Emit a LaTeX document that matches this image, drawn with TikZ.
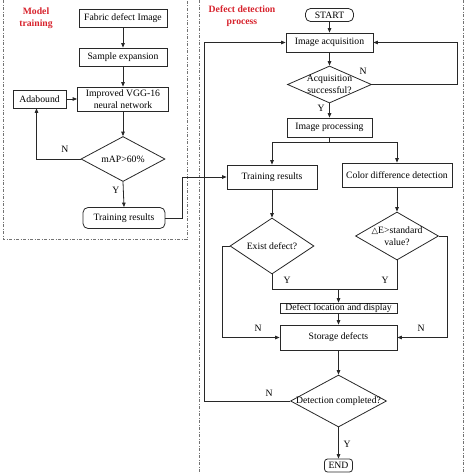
\documentclass[tikz,border=0pt]{standalone}
\usepackage{fontspec}
\setmainfont{Liberation Serif}
\newfontfamily\symf{DejaVu Sans}
\usetikzlibrary{shapes.geometric,arrows.meta}
\definecolor{lbl}{RGB}{215,35,45}
\definecolor{ln}{RGB}{40,40,40}
\begin{document}
\begin{tikzpicture}[x=1pt,y=-1pt,
  font=\fontsize{9.7}{12}\selectfont,
  box/.style={draw=ln,line width=0.8pt,inner sep=0pt,align=center},
  rbox/.style={box,rounded corners=5pt},
  dia/.style={draw=ln,line width=0.8pt,diamond,inner sep=0pt,align=center},
  con/.style={draw=ln,line width=0.8pt,-{Triangle[length=4.5pt,width=3.6pt]}},
  ln0/.style={draw=ln,line width=0.8pt},
  frame/.style={draw=black!55,line width=0.7pt,dash pattern=on 3pt off 1.5pt on 1pt off 1.5pt},
  yn/.style={inner sep=0pt},
  title/.style={text=lbl,font=\fontsize{9.7}{12}\selectfont\bfseries,align=center}]
\useasboundingbox (0,0) rectangle (474,474);
% frames
\draw[frame] (3,0) -- (3,239) -- (187,239) -- (187,0);
\draw[frame] (199,0) -- (199,474);
\draw[frame] (463,0) -- (463,474);
\node[title] (tl) at (36,18) {Model\\training};
\node[title] (tr) at (242,16) {Defect detection\\process};
% left panel
\node[box,minimum width=88pt,minimum height=18pt] (fab) at (123,18) {Fabric defect Image};
\node[box,minimum width=88pt,minimum height=18pt] (samp) at (123,57) {Sample expansion};
\node[box,minimum width=91pt,minimum height=24pt] (vgg) at (123,99) {Improved VGG-16\\neural network};
\node[box,minimum width=53pt,minimum height=18pt] (ada) at (39.5,99) {Adabound};
\node[dia,minimum width=84pt,minimum height=45pt] (map) at (123,159) {\makebox[0pt]{mAP>60\%}};
\node[rbox,minimum width=82pt,minimum height=21pt] (trl) at (124,218) {Training results};
\node[yn] (nl) at (65,149) {N};
\node[yn] (yl) at (116,190) {Y};
\draw[con] (fab) -- (samp);
\draw[con] (samp) -- (vgg);
\draw[con] (ada) -- (vgg);
\draw[con] (vgg) -- (map);
\draw[con] (map.west) -| ([xshift=-3pt]ada.south);
\draw[con] (map.south) -- (trl.north);
% right panel
\node[rbox,minimum width=48pt,minimum height=13pt] (start) at (329.5,15) {START};
\node[box,minimum width=87pt,minimum height=19pt] (acq) at (329.5,42.5) {Image acquisition};
\node[dia,minimum width=84pt,minimum height=37pt] (succ) at (329.5,84.5) {\makebox[0pt]{Acquisition}\\\makebox[0pt]{successful?}};
\node[box,minimum width=85pt,minimum height=19pt] (proc) at (329.5,127.5) {Image processing};
\node[box,minimum width=90pt,minimum height=24pt] (trr) at (272,177) {Training results};
\node[box,minimum width=110pt,minimum height=24pt] (cdd) at (397,175) {Color difference detection};
\node[dia,minimum width=84pt,minimum height=56pt] (exist) at (272,246) {\makebox[0pt]{Exist defect?}};
\node[dia,minimum width=83pt,minimum height=48pt] (de) at (397,236) {\makebox[0pt]{{\symf\fontsize{8.5}{10}\selectfont △}E>standard}\\\makebox[0pt]{value?}};
\node[box,minimum width=117pt,minimum height=10pt] (loc) at (338.5,308) {Defect location and display};
\node[box,minimum width=117pt,minimum height=25pt] (stor) at (338.5,337.5) {Storage defects};
\node[dia,minimum width=96pt,minimum height=52pt] (det) at (338.5,401) {\makebox[0pt]{Detection completed?}};
\node[rbox,minimum width=28pt,minimum height=13pt,rounded corners=3pt] (end) at (338.5,465.5) {END};
\node[yn] (n1) at (363,71) {N};
\node[yn] (y1) at (321,108) {Y};
\node[yn] (y2) at (287,280) {Y};
\node[yn] (y3) at (385,280) {Y};
\node[yn] (n2) at (258,328) {N};
\node[yn] (n3) at (421,328) {N};
\node[yn] (n4) at (269,393) {N};
\node[yn] (y4) at (347,444) {Y};
\coordinate (j1) at (182,177);
\draw[con] (trl.east) -| (j1) -- (trr.west);
\draw[con] (start) -- (acq);
\draw[con] (acq) -- (succ);
\coordinate (r1) at (457,84.5);
\draw[con] (succ.east) -- (r1) |- (acq.east);
\draw[con] (succ) -- (proc);
\coordinate (sp) at (329.5,142);
\draw[ln0] (proc) -- (sp);
\draw[con] (sp) -| (trr.north);
\draw[con] (sp) -| (cdd.north);
\draw[con] (trr) -- (exist);
\draw[con] (cdd) -- (de);
\coordinate (mg) at (338.5,289);
\draw[ln0] (exist.south) |- (mg);
\draw[ln0] (de.south) |- (mg);
\draw[con] (mg) -- (loc);
\draw[con] (loc) -- (stor);
\coordinate (l1) at (222,246);
\draw[con] (exist.west) -- (l1) |- (stor.west);
\coordinate (r2) at (447,236);
\draw[con] (de.east) -- (r2) |- (stor.east);
\draw[con] (stor) -- (det);
\coordinate (l2) at (204,401);
\draw[con] (det.west) -- (l2) |- (acq.west);
\draw[con] (det) -- (end);
\end{tikzpicture}
\end{document}
